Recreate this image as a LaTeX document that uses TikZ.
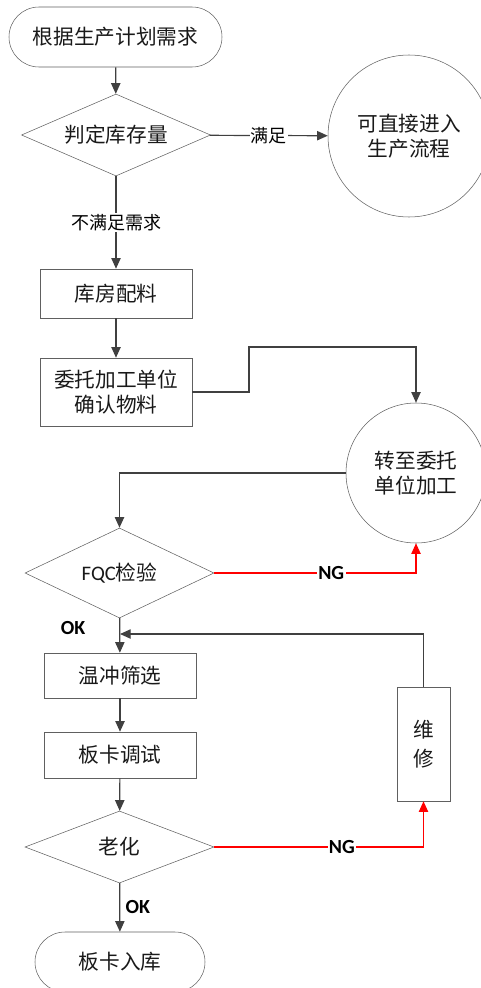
\documentclass[tikz,border=0pt]{standalone}
\usepackage{fontspec}
\setmainfont{Carlito}
\newfontfamily\cjk{Noto Sans CJK SC}
\usetikzlibrary{shapes.geometric,shapes.misc,arrows.meta}
\definecolor{linegray}{HTML}{404040}
\definecolor{edgegray}{HTML}{606060}
\tikzstyle{txt}=[font=\cjk\fontsize{15.5}{19}\selectfont, text=black!90, align=center]
\tikzstyle{term}=[txt, rounded rectangle, draw=edgegray, inner sep=0pt]
\tikzstyle{judge}=[txt, diamond, aspect=2.3, draw=edgegray, inner sep=0pt]
\tikzstyle{stepbox}=[txt, rectangle, draw=edgegray, inner sep=0pt, minimum width=114pt]
\tikzstyle{ball}=[txt, circle, draw=edgegray, inner sep=0pt]
\tikzstyle{arr}=[draw=linegray, line width=0.9pt, -{Triangle[length=8pt,width=7pt]}]
\tikzstyle{ngarr}=[draw=red, line width=0.9pt, -{Triangle[length=8pt,width=7pt]}]
\tikzstyle{lbl}=[font=\cjk\fontsize{13.5}{16}\selectfont, fill=white, inner sep=1pt]
\tikzstyle{bold}=[font=\bfseries\fontsize{15}{18}\selectfont, inner sep=1pt]
\begin{document}
\begin{tikzpicture}[x=0.75pt, y=-0.75pt]
	\useasboundingbox (0,0) rectangle (480,988);

	\node[term, minimum width=159.75pt, minimum height=45pt](start) at (115.5,37){根据生产计划需求};
	\node[judge, minimum width=141.75pt, minimum height=61.5pt](stockcheck) at (116,135){判定库存量};
	\node[ball, minimum size=121.5pt](direct) at (409,136){可直接进入\\生产流程};
	\node[stepbox, minimum height=36.75pt](picking) at (116,293.5){库房配料};
	\node[stepbox, minimum height=51pt](confirm) at (116,392){委托加工单位\\确认物料};
	\node[ball, minimum size=105pt](outsource) at (416,473){转至委托\\单位加工};
	\node[judge, minimum width=141.75pt, minimum height=67.5pt](fqc) at (119.5,573){{\normalfont FQC}检验};
	\node[stepbox, minimum height=33.75pt](screen) at (120,675.5){温冲筛选};
	\node[stepbox, minimum height=34.5pt](debug) at (120,755){板卡调试};
	\node[judge, minimum width=141.75pt, minimum height=54pt](aging) at (119.5,847){老化};
	\node[stepbox, minimum width=39.75pt, minimum height=85.5pt, font=\cjk\fontsize{15.5}{22}\selectfont](repair) at (423.5,744){维\\修};
	\node[term, minimum width=127.5pt, minimum height=45pt](store) at (120,962){板卡入库};

	\coordinate (bend) at (249,347);
	\coordinate (merge) at (120,634);

	\draw[arr] (start) -- (stockcheck);
	\draw[arr] (stockcheck) -- node[lbl]{满足} (direct);
	\draw[arr] (stockcheck) -- node[lbl]{不满足需求} (picking);
	\draw[arr] (picking) -- (confirm);
	\draw[arr] (confirm.east) -| (bend) -| (outsource.north);
	\draw[arr] (outsource.west) -| (fqc.north);
	\draw[ngarr] (fqc.east) -| node[pos=0.29, bold, fill=white]{NG} (outsource.south);
	\draw[arr] (fqc) -- (screen);
	\node[bold](ok1) at (73,628){OK};
	\draw[arr] (screen) -- (debug);
	\draw[arr] (debug) -- (aging);
	\draw[ngarr] (aging.east) -| node[pos=0.305, bold, fill=white]{NG} (repair.south);
	\draw[arr] (repair.north) |- (merge);
	\draw[arr] (aging) -- node[bold, right=3pt]{OK} (store);
\end{tikzpicture}
\end{document}
